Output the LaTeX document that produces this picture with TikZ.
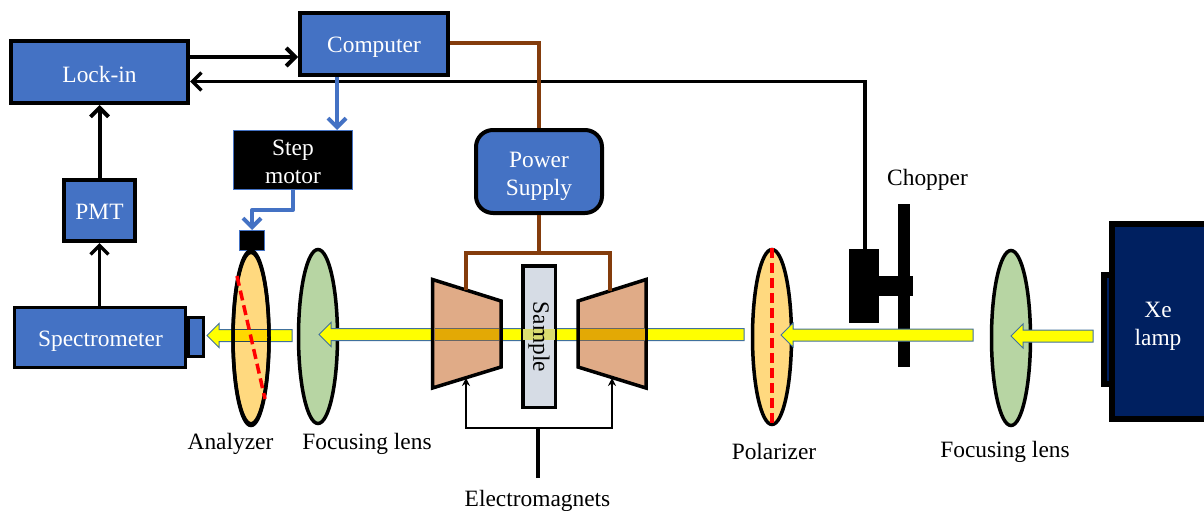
\documentclass[tikz,border=0pt]{standalone}
\usepackage{fontspec}
\setmainfont{Liberation Serif}
\usetikzlibrary{arrows.meta,shapes.geometric}
\definecolor{boxblue}{HTML}{4472C4}
\definecolor{wirebrown}{HTML}{843C0C}
\definecolor{lampblue}{HTML}{002060}
\definecolor{lensgreen}{HTML}{B7D5A3}
\definecolor{lensorange}{HTML}{FFD97F}
\definecolor{magnet}{HTML}{E0AB87}
\definecolor{magband}{HTML}{E3A905}
\definecolor{goldband}{HTML}{FFD800}
\definecolor{sampleband}{HTML}{DADC70}
\definecolor{samplefill}{HTML}{D6DCE5}
\definecolor{arrowedge}{HTML}{41719C}
\definecolor{beamyellow}{HTML}{FFFF00}
\definecolor{purered}{HTML}{FF0000}
\tikzset{
  lab/.style={font=\fontsize{23.4}{28}\selectfont, align=center, inner sep=0pt},
  wtext/.style={lab, text=white},
  bluebox/.style={draw=black, line width=4pt, fill=boxblue, inner sep=0pt},
  lens/.style={draw=black, line width=3.5pt, ellipse, inner sep=0pt},
  wire/.style={line width=4pt, draw=black},
  bluewire/.style={line width=4pt, draw=boxblue},
  brownwire/.style={line width=4pt, draw=wirebrown},
  barb/.style={-{Straight Barb[length=9pt,width=18pt]}},
  beam/.style={fill=beamyellow, draw=arrowedge, line width=1pt},
  redline/.style={draw=purered, line width=3.5pt, dash pattern=on 10pt off 5pt},
  solidblack/.style={fill=black, draw=none},
}
\newcommand{\beamarrow}[4]{% tip x, head-end x, tail x, mid y
  \path[beam] (#1,#4) -- (#2,#4-12) -- (#2,#4-6) -- (#3,#4-6) -- (#3,#4+6) -- (#2,#4+6) -- (#2,#4+12) -- cycle;}
\begin{document}
\begin{tikzpicture}[x=1pt,y=-1pt]
\useasboundingbox (0,0) rectangle (1204,511);

% boxes
\node[bluebox, minimum width=177pt, minimum height=62pt] (lockin) at (99.5,72) {};
\node[wtext] (tlockin) at (99.5,74) {Lock-in};
\node[bluebox, minimum width=148pt, minimum height=62pt] (computer) at (374,44) {};
\node[wtext] (tcomputer) at (374,47.5) {Computer};
\node[bluebox, minimum width=71pt, minimum height=61pt] (pmt) at (99.5,210.5) {};
\node[wtext] (tpmt) at (99.5,211.5) {PMT};
\node[bluebox, line width=3pt, minimum width=171pt, minimum height=60pt] (spec) at (100,337.5) {};
\node[wtext] (tspec) at (100.5,341.5) {Spectrometer};
\node[draw=black, line width=3pt, fill=boxblue, minimum width=15pt, minimum height=39pt, inner sep=0pt] (slit) at (195.5,336.5) {};
\node[draw=boxblue, line width=1pt, fill=black, minimum width=119pt, minimum height=59pt, inner sep=0pt] (stepm) at (293,160) {};
\node[wtext] (tstepm) at (293,162) {Step\\motor};
\node[draw=boxblue, line width=1pt, fill=black, minimum width=25pt, minimum height=20pt, inner sep=0pt] (head) at (252,240.5) {};
\node[bluebox, rounded corners=17pt, minimum width=126pt, minimum height=83pt] (power) at (539,171.5) {};
\node[wtext] (tpower) at (539,176.5) {Power\\Supply};

% chopper
\node[solidblack, minimum width=12pt, minimum height=163pt, inner sep=0pt] (blade) at (904,285.5) {};
\node[solidblack, minimum width=30pt, minimum height=74pt, inner sep=0pt] (chopmotor) at (864,286) {};
\node[solidblack, minimum width=34pt, minimum height=20pt, inner sep=0pt] (axle) at (896,286) {};

% Xe lamp
\node[draw=black, line width=6pt, fill=lampblue, minimum width=8pt, minimum height=109pt, inner sep=0pt] (lampside) at (1108,329.5) {};
\node[draw=black, line width=6pt, fill=lampblue, minimum width=100pt, minimum height=195pt, inner sep=0pt] (lamp) at (1162,321.5) {};
\node[wtext] (lamplabel) at (1158,326) {Xe\\lamp};

% lenses behind the beam heads
\node[lens, fill=lensgreen, minimum width=39pt, minimum height=174pt] (lensL) at (318,336.5) {};
\node[lens, fill=lensorange, minimum width=39pt, minimum height=175pt] (polarizer) at (772,337) {};
\node[lens, fill=lensgreen, minimum width=39pt, minimum height=175pt] (lensR) at (1011,338) {};
\draw[redline] (polarizer.north) -- (polarizer.south);

% beams
\beamarrow{207}{219}{292}{335.5}
\beamarrow{319}{331}{744}{334.5}
\beamarrow{781}{793}{973}{335}
\beamarrow{1011}{1023}{1093}{336}

% analyzer over its beam
\node[lens, fill=lensorange, minimum width=36pt, minimum height=173pt] (analyzer) at (251,339) {};
\fill[goldband] (233.5,330) rectangle (268.5,341);
\draw[arrowedge!60!black, line width=.6pt] (233.5,329.5) -- (268.5,329.5) (233.5,341.5) -- (268.5,341.5);
\draw[black, line width=3.5pt] (analyzer.north) arc[start angle=90, end angle=450, x radius=18pt, y radius=86.5pt];
\coordinate (redA) at (237,276);
\coordinate (redB) at (265,399);
\draw[redline] (redA) -- (redB);

% magnets and sample
\coordinate (mL1) at (432.5,279.5);
\coordinate (mL2) at (501,301);
\coordinate (mL3) at (501,367);
\coordinate (mL4) at (432.5,388);
\coordinate (mR1) at (578,301);
\coordinate (mR2) at (646,279.5);
\coordinate (mR3) at (646,388);
\coordinate (mR4) at (578,367);
\draw[fill=magnet, line width=3.5pt, line join=miter] (mL1) -- (mL2) -- (mL3) -- (mL4) -- cycle;
\draw[fill=magnet, line width=3.5pt, line join=miter] (mR1) -- (mR2) -- (mR3) -- (mR4) -- cycle;
\fill[magband] (434.5,329) rectangle (499,340);
\fill[magband] (580,329) rectangle (644.5,340);
\draw[black!60, line width=.6pt] (434.5,328.5) -- (499,328.5) (434.5,340.5) -- (499,340.5)
  (580,328.5) -- (644.5,328.5) (580,340.5) -- (644.5,340.5);
\node[draw=black, line width=3.5pt, fill=samplefill, minimum width=32.5pt, minimum height=141.5pt, inner sep=0pt] (sample) at (539,336.5) {};
\fill[sampleband] (523,329) rectangle (555,340);
\node[lab, rotate=-90] (samplelabel) at (539,337) {Sample};

% connectors
\draw[wire, barb] ([yshift=15pt]lockin.east) -- ([yshift=-13pt]computer.west);
\coordinate (chopup) at (865,81.5);
\coordinate (chopbase) at (865,249);
\draw[wire, line width=3.5pt, barb] (chopbase) -- (chopup) -- (lockin.east |- chopup);
\draw[wire, barb] (pmt.north) -- (lockin.south);
\draw[wire, line width=3.5pt, barb] (spec.north -| pmt.south) -- (pmt.south);
\coordinate (blueX) at (337,100);
\draw[bluewire, barb] (computer.south -| blueX) -- (stepm.north -| blueX);
\coordinate (bendS) at (293,210);
\draw[bluewire, barb, line join=round] (stepm.south) -- (bendS) -- (bendS -| head.north) -- (head.north);
\coordinate (brownC) at (539,43);
\draw[brownwire] (computer.east |- brownC) -- (brownC) -- (power.north);
\coordinate (splitP) at (539,252.5);
\coordinate (brownL) at (466,290);
\coordinate (brownR) at (610,291);
\draw[brownwire] (power.south) -- (splitP);
\draw[brownwire, line join=miter] (brownL) -- (brownL |- splitP) -- (brownR |- splitP) -- (brownR);
\coordinate (emag) at (538,478);
\coordinate (emagsplit) at (538,428);
\coordinate (coilL) at (466,378);
\coordinate (coilR) at (612,378);
\draw[line width=3.5pt] (emag) -- (emagsplit);
\draw[line width=2pt, -{Stealth[length=8pt,width=8pt]}] (emagsplit) -- (coilL |- emagsplit) -- (coilL);
\draw[line width=2pt, -{Stealth[length=8pt,width=8pt]}] (emagsplit) -- (coilR |- emagsplit) -- (coilR);

% labels
\node[lab] (tchopper) at (927.5,180) {Chopper};
\node[lab] (tfocusR) at (1005,451.5) {Focusing lens};
\node[lab] (tpolar) at (774,451) {Polarizer};
\node[lab] (temag) at (537.5,501) {Electromagnets};
\node[lab] (tanal) at (230.5,443.5) {Analyzer};
\node[lab] (tfocusL) at (367,443.5) {Focusing lens};
\end{tikzpicture}
\end{document}
